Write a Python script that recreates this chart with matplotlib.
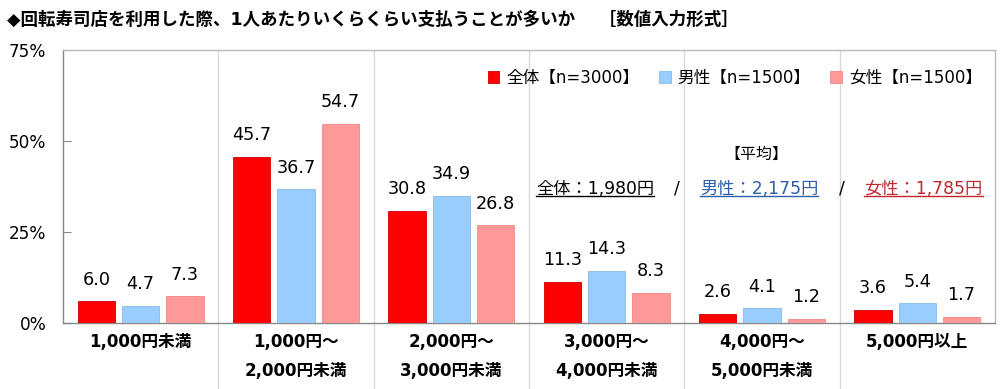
import matplotlib
matplotlib.use("Agg")
import matplotlib.pyplot as plt
import numpy as np
from matplotlib.lines import Line2D
import matplotlib.transforms as mtransforms

plt.rcParams['font.family'] = ['DejaVu Sans', 'Noto Sans CJK JP']

categories = ["1,000円未満", "1,000円～\n2,000円未満", "2,000円～\n3,000円未満",
              "3,000円～\n4,000円未満", "4,000円～\n5,000円未満", "5,000円以上"]
series_names = ["全体【n=3000】", "男性【n=1500】", "女性【n=1500】"]
total = [6.0, 45.7, 30.8, 11.3, 2.6, 3.6]
male = [4.7, 36.7, 34.9, 14.3, 4.1, 5.4]
female = [7.3, 54.7, 26.8, 8.3, 1.2, 1.7]
yticks = [0, 25, 50, 75]
title = "◆回転寿司店を利用した際、1人あたりいくらくらい支払うことが多いか　 ［数値入力形式］"
avg_header = "【平均】"
avg_texts = ["全体：1,980円", "男性：2,175円", "女性：1,785円"]

colors = ["#FF0000", "#99CCFF", "#FF9999"]
edge_colors = ["#D00000", "#88BBEE", "#EE8888"]
avg_colors = ["#000000", "#2E5FA8", "#C0282D"]

fig = plt.figure(figsize=(10, 3.89), dpi=100)
ax = fig.add_axes([0.063, 0.1697, 0.932, 0.7018])

x = np.arange(len(categories))
w = 0.24
offs = [-0.285, 0.0, 0.285]
for s, (vals, c, ec, name) in enumerate(zip([total, male, female], colors, edge_colors, series_names)):
    ax.bar(x + offs[s], vals, width=w, color=c, edgecolor=ec, linewidth=0.6, label=name, zorder=3)
    for xi, v in zip(x + offs[s], vals):
        ax.annotate(f"{v:.1f}", (xi, v), xytext=(0, 9), textcoords="offset points",
                    ha="center", va="bottom", fontsize=12.7, color="#000000")

ax.set_xlim(-0.5, len(categories) - 0.5)
ax.set_ylim(0, 75)
ax.set_yticks(yticks)
ax.set_yticklabels([f"{t}%" for t in yticks], fontsize=12.2)
ax.tick_params(axis='y', direction='in', length=6, color='#888888', pad=12)
ax.set_xticks([])
for sp in ax.spines.values():
    sp.set_color('#BBBBBB')
    sp.set_linewidth(1.0)
ax.spines['left'].set_color('#888888')
ax.spines['bottom'].set_color('#888888')

trans = mtransforms.blended_transform_factory(ax.transData, ax.transAxes)
for i in range(1, len(categories)):
    ax.plot([i - 0.5, i - 0.5], [1, -0.245], transform=trans, color='#D9D9D9', lw=1.0,
            clip_on=False, zorder=1)

for i, cat in enumerate(categories):
    lines = cat.split("\n")
    for j, ln in enumerate(lines):
        ax.text(i, -0.07 - j * 0.105, ln, transform=trans, ha='center', va='center',
                fontsize=12, fontweight='bold')

ax.legend(loc='upper right', bbox_to_anchor=(0.993, 0.955), ncol=3, frameon=False,
          fontsize=12, handlelength=0.7, handleheight=0.7, handletextpad=0.4,
          columnspacing=1.2, borderaxespad=0)

fig.text(0.007, 0.948, title, fontsize=12.6, fontweight='bold', va='center', ha='left')

# average box
fig.text(0.756, 0.603, avg_header, ha='center', va='center', fontsize=11.5)
xs = [0.595, 0.759, 0.9235]
texts = []
for xc, t, c in zip(xs, avg_texts, avg_colors):
    texts.append(fig.text(xc, 0.515, t, ha='center', va='center', fontsize=12.4, color=c))
fig.text(0.677, 0.515, "/", ha='center', va='center', fontsize=12.4)
fig.text(0.842, 0.515, "/", ha='center', va='center', fontsize=12.4)

fig.canvas.draw()
r = fig.canvas.get_renderer()
for t, c in zip(texts, avg_colors):
    bb = t.get_window_extent(r).transformed(fig.transFigure.inverted())
    fig.add_artist(Line2D([bb.x0, bb.x1], [bb.y0 + 0.003, bb.y0 + 0.003], color=c, lw=1.0,
                          transform=fig.transFigure))

fig.savefig("out.png", dpi=100)
